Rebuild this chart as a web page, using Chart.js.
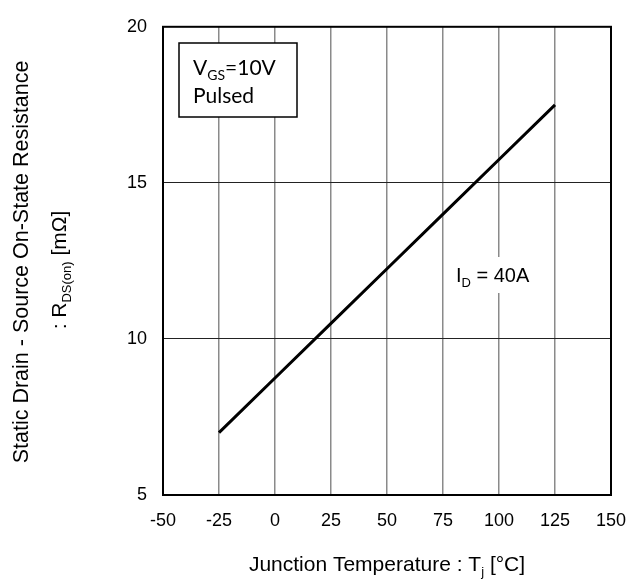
<!DOCTYPE html>
<html>
<head>
<meta charset="utf-8">
<script src="https://cdn.jsdelivr.net/npm/chart.js@4"></script>
<style>
  html, body { margin: 0; padding: 0; background: #fff; }
  #wrap { width: 629px; height: 583px; }
</style>
</head>
<body>
<div id="wrap"><canvas id="chart" width="629" height="583"></canvas></div>
<script>
// junction temperature [°C] and on-resistance [mΩ]
const tempC = [-25, 0, 25, 50, 75, 100, 125];
const rdsOn = [7.0, 8.75, 10.5, 12.25, 14.0, 15.75, 17.5];
const xTicks = [-50, -25, 0, 25, 50, 75, 100, 125, 150];
const yTicks = [5, 10, 15, 20];

const ARIAL = '"Liberation Sans", Arial, sans-serif';
const CALIBRI = 'Lato, "Open Sans", sans-serif';

// draw a run of [text, isSub] pieces starting at x
function drawRuns(ctx, runs, x, y, size, subSize, subDrop) {
  for (const [txt, sub] of runs) {
    ctx.font = (sub ? subSize : size) + 'px ' + ctx._fam;
    ctx.fillText(txt, x, y + (sub ? subDrop : 0));
    x += ctx.measureText(txt).width;
  }
  return x;
}
function runsWidth(ctx, runs, size, subSize) {
  let w = 0;
  for (const [txt, sub] of runs) {
    ctx.font = (sub ? subSize : size) + 'px ' + ctx._fam;
    w += ctx.measureText(txt).width;
  }
  return w;
}

const decorations = {
  id: 'decorations',
  afterDraw(chart) {
    const { ctx, chartArea: a } = chart;
    ctx.save();
    ctx.fillStyle = '#000';
    ctx.textAlign = 'left';
    ctx.textBaseline = 'alphabetic';

    // frame
    ctx.strokeStyle = '#000';
    ctx.lineWidth = 2;
    ctx.strokeRect(a.left, a.top, a.right - a.left, a.bottom - a.top);

    // condition box
    ctx.fillStyle = '#fff';
    ctx.fillRect(179, 43, 118, 74);
    ctx.lineWidth = 1.5;
    ctx.strokeRect(179, 43, 118, 74);
    ctx.fillStyle = '#000';
    ctx._fam = CALIBRI;
    drawRuns(ctx, [['V', false], ['GS', true], ['=10V', false]], 193, 75, 21, 14, 5);
    drawRuns(ctx, [['Pulsed', false]], 193, 103, 21, 14, 5);

    // current label with white backing over the grid
    ctx._fam = ARIAL;
    const idRuns = [['I', false], ['D', true], [' = 40A', false]];
    const idW = runsWidth(ctx, idRuns, 20, 13);
    ctx.fillStyle = '#fff';
    ctx.fillRect(454, 257, idW + 4, 36);
    ctx.fillStyle = '#000';
    drawRuns(ctx, idRuns, 456, 282, 20, 13, 5);

    // x axis title
    const xRuns = [['Junction Temperature : T', false], ['j', true], [' [\u00b0C]', false]];
    const xw = runsWidth(ctx, xRuns, 21, 13);
    const cx = (a.left + a.right) / 2;
    drawRuns(ctx, xRuns, cx - xw / 2, 571, 21, 13, 5);

    // y axis title, two rotated lines
    const y1 = [['Static Drain - Source On-State Resistance', false]];
    const y2 = [[': R', false], ['DS(on)', true], [' [m\u03a9]', false]];
    ctx.save();
    ctx.translate(28, 262);
    ctx.rotate(-Math.PI / 2);
    drawRuns(ctx, y1, -runsWidth(ctx, y1, 21.5, 13) / 2, 0, 21.5, 13, 5);
    ctx.restore();
    ctx.save();
    ctx.translate(66, 270);
    ctx.rotate(-Math.PI / 2);
    drawRuns(ctx, y2, -runsWidth(ctx, y2, 21, 13) / 2, 0, 21, 13, 5);
    ctx.restore();

    ctx.restore();
  }
};

new Chart(document.getElementById('chart'), {
  type: 'scatter',
  data: {
    datasets: [{
      data: tempC.map((t, i) => ({ x: t, y: rdsOn[i] })),
      showLine: true,
      borderColor: '#000',
      borderWidth: 3,
      pointRadius: 0,
      tension: 0
    }]
  },
  options: {
    responsive: false,
    animation: false,
    devicePixelRatio: 1,
    layout: { padding: { left: 0, right: 18, top: 21, bottom: 0 } },
    plugins: { legend: { display: false }, tooltip: { enabled: false } },
    scales: {
      x: {
        type: 'linear',
        min: -50, max: 150,
        afterBuildTicks: s => { s.ticks = xTicks.map(v => ({ value: v })); },
        afterFit: s => { s.height = 88; s.paddingRight = 0; s.paddingLeft = 0; },
        grid: { color: '#8a8a8a', lineWidth: 1.5, drawTicks: false },
        border: { display: false },
        ticks: { color: '#000', font: { family: ARIAL, size: 18 }, padding: 15, maxRotation: 0 }
      },
      y: {
        type: 'linear',
        min: 5, max: 20,
        afterBuildTicks: s => { s.ticks = yTicks.map(v => ({ value: v })); },
        afterFit: s => { s.width = 163; },
        grid: { color: '#222', lineWidth: 1, drawTicks: false },
        border: { display: false },
        ticks: { color: '#000', font: { family: ARIAL, size: 18 }, padding: 16 }
      }
    }
  },
  plugins: [decorations]
});
</script>
</body>
</html>
